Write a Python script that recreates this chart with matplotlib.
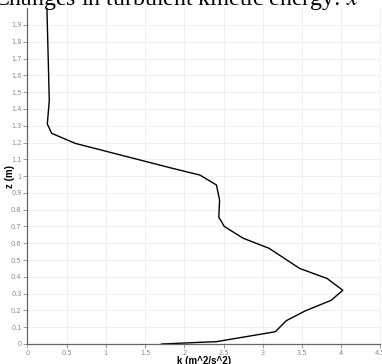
import numpy as np
import matplotlib.pyplot as plt

plt.rcParams['mathtext.fontset'] = 'stix'

# k (m^2/s^2) against height z (m)
z = [0.0, 0.014, 0.073, 0.139, 0.197, 0.26, 0.32, 0.39, 0.45, 0.57, 0.63, 0.70,
     0.755, 0.857, 0.947, 1.006, 1.045, 1.195, 1.255, 1.31, 1.45, 2.0]
k = [1.71, 2.41, 3.16, 3.30, 3.54, 3.87, 4.02, 3.82, 3.47, 3.08, 2.75, 2.51,
     2.44, 2.45, 2.41, 2.20, 1.86, 0.61, 0.31, 0.255, 0.28, 0.25]

xticks = [0, 0.5, 1, 1.5, 2, 2.5, 3, 3.5, 4, 4.5]
xticklabels = ['0', '0.5', '1', '1.5', '2', '2.5', '3', '3.5', '4', '4.5']
yticks = [round(0.1 * i, 1) for i in range(20)]
yticklabels = ['0' if v == 0 else ('1' if v == 1 else str(v)) for v in yticks]

fig = plt.figure(figsize=(3.82, 3.64), dpi=100)
ax = fig.add_axes([27.3 / 382, 20 / 364, 353.2 / 382, 335.8 / 364])

ax.plot(k, z, color='black', linewidth=1.0)

ax.set_xlim(0, 4.5)
ax.set_ylim(0, 2.0)
ax.set_xticks(xticks)
ax.set_xticklabels(xticklabels)
ax.set_yticks(yticks)
ax.set_yticklabels(yticklabels)
ax.grid(True, color='#eeeeee', linewidth=0.6)
ax.set_axisbelow(True)

for side in ['top', 'right']:
    ax.spines[side].set_visible(False)
for side in ['left', 'bottom']:
    ax.spines[side].set_color('#666666')
    ax.spines[side].set_linewidth(0.9)

ax.tick_params(axis='both', labelsize=4.8, labelcolor='#8a8a8a', color='#888888',
               length=3, width=0.6, pad=1)

ax.set_xlabel('k (m^2/s^2)', fontsize=7, fontweight='bold',
              family='Liberation Sans', va='center')
ax.xaxis.set_label_coords(0.5, (344 - 360.5) / 335.8)
ax.set_ylabel('z (m)', fontsize=7, fontweight='bold',
              family='Liberation Sans', va='center')
ax.yaxis.set_label_coords((10 - 27.3) / 353.2, 0.5)

fig.text(-7, 364 - 4.5, 'Changes in turbulent kinetic energy: $x$ = 0',
         transform=None, fontsize=17.2, family='Liberation Serif',
         ha='left', va='baseline')

fig.savefig('out.png', dpi=100)
